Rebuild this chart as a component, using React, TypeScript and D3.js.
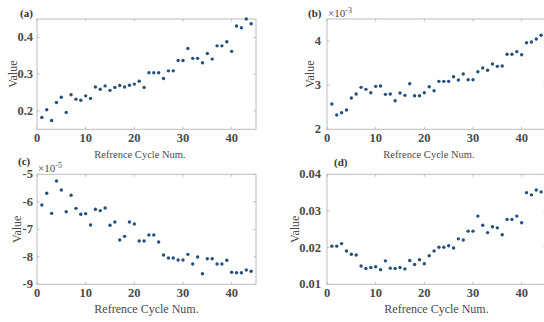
import React from "react";
import * as d3 from "d3";

const cycles: number[] = Array.from({ length: 44 }, (_, i) => i + 1);

const seriesA: number[] = [
  0.182, 0.203, 0.174, 0.223, 0.237, 0.196, 0.244, 0.232, 0.229, 0.241, 0.234,
  0.265, 0.259, 0.268, 0.256, 0.264, 0.269, 0.265, 0.270, 0.273, 0.281, 0.264,
  0.304, 0.304, 0.304, 0.288, 0.309, 0.309, 0.337, 0.337, 0.370, 0.343, 0.343,
  0.331, 0.356, 0.341, 0.377, 0.377, 0.388, 0.362, 0.431, 0.426, 0.450, 0.437,
];

const seriesB: number[] = [
  2.573, 2.323, 2.375, 2.437, 2.709, 2.799, 2.951, 2.906, 2.829, 2.974, 2.981,
  2.792, 2.799, 2.648, 2.822, 2.770, 3.033, 2.761, 2.761, 2.829, 2.965, 2.874,
  3.087, 3.087, 3.087, 3.192, 3.117, 3.253, 3.124, 3.124, 3.305, 3.389, 3.337,
  3.480, 3.427, 3.434, 3.700, 3.700, 3.760, 3.690, 3.963, 3.978, 4.046, 4.130,
];

const seriesC: number[] = [
  -6.116, -5.69, -6.42, -5.244, -5.571, -6.36, -5.764, -6.238, -6.455, -6.43,
  -6.844, -6.273, -6.32, -6.225, -6.855, -6.735, -7.389, -7.256, -6.735, -6.807,
  -7.425, -7.425, -7.207, -7.207, -7.462, -7.935, -8.044, -8.044, -8.116, -8.116,
  -7.91, -8.262, -8.007, -8.615, -8.069, -8.069, -8.262, -8.262, -8.127, -8.564,
  -8.58, -8.58, -8.48, -8.527,
];

const seriesD: number[] = [
  0.0204, 0.0204, 0.0211, 0.0191, 0.0182, 0.018, 0.015, 0.0143, 0.0146, 0.0148,
  0.014, 0.0164, 0.0144, 0.0143, 0.0146, 0.0142, 0.0165, 0.0154, 0.0167, 0.0156,
  0.0178, 0.0191, 0.0201, 0.0201, 0.0205, 0.0199, 0.0224, 0.0221, 0.0245, 0.0245,
  0.0286, 0.0261, 0.0241, 0.0257, 0.0254, 0.0235, 0.0277, 0.0277, 0.0286, 0.0268,
  0.035, 0.0344, 0.0357, 0.0352,
];

const xTicks: number[] = [0, 10, 20, 30, 40];
const yTicksA: number[] = [0.2, 0.3, 0.4];
const yTicksB: number[] = [2, 3, 4];
const yTicksC: number[] = [-9, -8, -7, -6, -5];
const yTicksD: number[] = [0.01, 0.02, 0.03, 0.04];

const fmtA = (v: number) => d3.format(".1f")(v);
const fmtB = (v: number) => d3.format("d")(v).replace("−", "-");
const fmtD = (v: number) => d3.format(".2f")(v);

type PanelProps = {
  x0: number;
  x1: number;
  y0: number;
  y1: number;
  yDomain: [number, number];
  yTicks: number[];
  fmt: (v: number) => string;
  values: number[];
  tag: string;
  tagX: number;
  tagY: number;
  exponent?: string;
  xLabelSize: number;
  xLabelX: number;
  xLabelY: number;
  yLabelX: number;
  tickGap: number;
};

const FONT = "Liberation Serif, Tinos, DejaVu Serif, Noto Serif, serif";
const BOX = "#bdbdbd";
const TXT = "#4a4a4a";

function Panel(p: PanelProps) {
  const x = d3.scaleLinear().domain([0, 45]).range([p.x0, p.x1]);
  const y = d3.scaleLinear().domain(p.yDomain).range([p.y1, p.y0]);
  const tl = 2.5;
  const yMid = (p.y0 + p.y1) / 2;
  return (
    <g style={{ fontFamily: FONT }}>
      <rect x={p.x0} y={p.y0} width={p.x1 - p.x0} height={p.y1 - p.y0} fill="#fff" stroke={BOX} strokeWidth={1} />
      {xTicks.map((t) => (
        <g key={"xt" + t}>
          <line x1={x(t)} x2={x(t)} y1={p.y1} y2={p.y1 - tl} stroke={BOX} />
          <line x1={x(t)} x2={x(t)} y1={p.y0} y2={p.y0 + tl} stroke={BOX} />
          <text x={x(t)} y={p.y1 + 13} textAnchor="middle" fontSize={12.5} fontWeight="bold" fill={TXT}>
            {t}
          </text>
        </g>
      ))}
      {p.yTicks.map((t) => (
        <g key={"yt" + t}>
          <line x1={p.x0} x2={p.x0 + tl} y1={y(t)} y2={y(t)} stroke={BOX} />
          <line x1={p.x1} x2={p.x1 - tl} y1={y(t)} y2={y(t)} stroke={BOX} />
          <text x={p.x0 - p.tickGap} y={y(t) + 4} textAnchor="end" fontSize={12.5} fontWeight="bold" fill={TXT}>
            {p.fmt(t)}
          </text>
        </g>
      ))}
      {p.values.map((v, i) => (
        <circle key={"pt" + i} cx={x(cycles[i])} cy={y(v)} r={1.7} fill="#24507d" />
      ))}
      <text x={p.xLabelX} y={p.xLabelY} textAnchor="middle" fontSize={p.xLabelSize} fill={TXT}>
        Refrence Cycle Num.
      </text>
      <text
        transform={`translate(${p.yLabelX},${yMid}) rotate(-90)`}
        textAnchor="middle"
        fontSize={12}
        fill={TXT}
      >
        Value
      </text>
      <text x={p.tagX} y={p.tagY} fontSize={11} fontWeight="bold" fill="#333">
        {p.tag}
      </text>
      {p.exponent && (
        <text x={p.x0 + 1} y={p.y0 - 2.5} fontSize={11} fill={TXT}>
          ×10
          <tspan dy={-4} fontSize={8}>
            {p.exponent}
          </tspan>
        </text>
      )}
    </g>
  );
}

export default function App() {
  return (
    <div style={{ position: "absolute", left: 0, top: 0 }}>
      <svg width={544} height={322} style={{ display: "block", background: "#fff" }}>
        <Panel x0={37} x1={256} y0={19} y1={129.3} yDomain={[0.15, 0.45]} yTicks={yTicksA} fmt={fmtA}
          values={seriesA} tag="(a)" tagX={20} tagY={17} xLabelSize={10.5} xLabelX={140} xLabelY={158}
          yLabelX={17} tickGap={4} />
        <Panel x0={327} x1={546} y0={19} y1={129.3} yDomain={[2, 4.5]} yTicks={yTicksB} fmt={fmtB}
          values={seriesB} tag="(b)" tagX={308} tagY={17} exponent="-3" xLabelSize={10.5} xLabelX={429}
          xLabelY={158} yLabelX={314} tickGap={6} />
        <Panel x0={37} x1={256} y0={174.3} y1={284.3} yDomain={[-9, -5]} yTicks={yTicksC} fmt={fmtB}
          values={seriesC} tag="(c)" tagX={18} tagY={165} exponent="-5" xLabelSize={12} xLabelX={146.5}
          xLabelY={313} yLabelX={21} tickGap={4} />
        <Panel x0={327} x1={546} y0={174.3} y1={284.3} yDomain={[0.01, 0.04]} yTicks={yTicksD} fmt={fmtD}
          values={seriesD} tag="(d)" tagX={334} tagY={166} xLabelSize={12} xLabelX={436.5}
          xLabelY={313} yLabelX={299} tickGap={6} />
      </svg>
    </div>
  );
}
